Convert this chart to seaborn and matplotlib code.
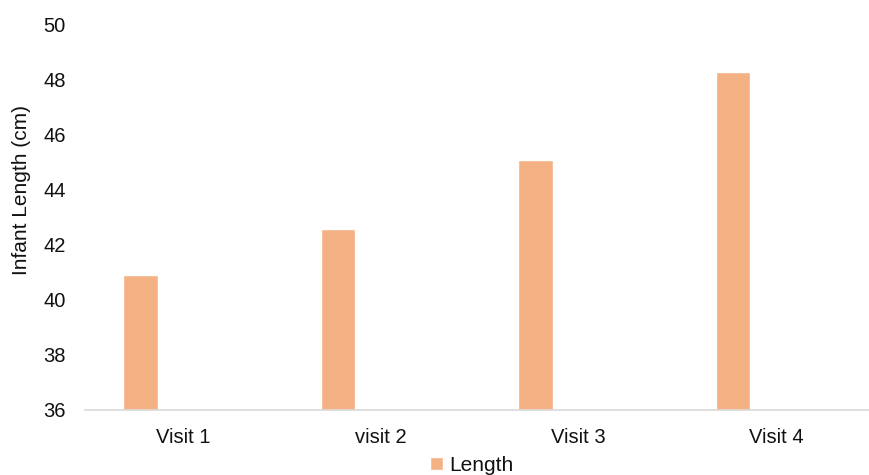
import matplotlib
matplotlib.use("Agg")
import matplotlib.pyplot as plt
import seaborn as sns
import pandas as pd

visits = ["Visit 1", "visit 2", "Visit 3", "Visit 4"]
length_cm = [40.9, 42.6, 45.1, 48.3]
series_name = "Length"
y_ticks = [36, 38, 40, 42, 44, 46, 48, 50]

sns.set_theme(style="white")
plt.rcParams["font.family"] = ["Liberation Sans", "DejaVu Sans"]

df = pd.DataFrame({"visit": visits, "length": length_cm})

W, H = 869, 475
fig = plt.figure(figsize=(W / 100, H / 100), dpi=100)
ax = fig.add_axes([85 / W, 1 - 410 / H, 1 - 85 / W, (410 - 25) / H])

text_color = "#111111"
bar_color = "#F4B183"
sns.barplot(data=df, x="visit", y="length", color=bar_color, width=0.175,
            saturation=1, ax=ax, label=series_name)

# place each bar in the left slot of its category
shift = -0.218
for p in ax.patches:
    p.set_x(p.get_x() + shift)

ax.set_xlim(-0.5, 3.47)
ax.set_ylim(36, 50)
ax.set_yticks(y_ticks)
ax.set_xlabel("")
ax.set_ylabel("Infant Length (cm)", fontsize=15, color=text_color)
ax.yaxis.set_label_coords(-0.069, 0.571)
ax.tick_params(axis="both", labelsize=14.5, colors=text_color, length=0)
ax.tick_params(axis="x", pad=13)
ax.tick_params(axis="y", pad=14)

for side in ["top", "right", "left"]:
    ax.spines[side].set_visible(False)
ax.spines["bottom"].set_color("#D9D9D9")
ax.spines["bottom"].set_linewidth(1.2)

leg = ax.legend(loc="upper center", bbox_to_anchor=(0.493, -0.12), frameon=False,
                fontsize=15, handlelength=0.6, handleheight=0.6, handletextpad=0.3,
                borderaxespad=0, borderpad=0)
for t in leg.get_texts():
    t.set_color(text_color)

fig.savefig("out.png", dpi=100)
